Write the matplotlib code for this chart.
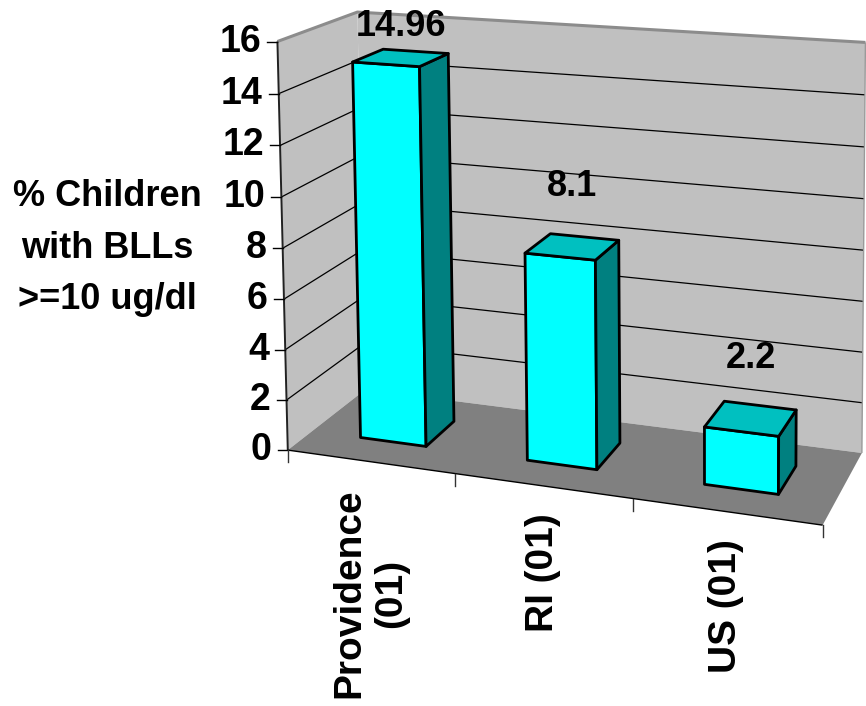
import numpy as np
import matplotlib.pyplot as plt
from matplotlib.patches import Polygon

plt.rcParams['font.family'] = ['Liberation Sans', 'DejaVu Sans']

# data
categories = ["Providence\n(01)", "RI (01)", "US (01)"]
values = [14.96, 8.1, 2.2]
value_labels = ["14.96", "8.1", "2.2"]
z_ticks = [0, 2, 4, 6, 8, 10, 12, 14, 16]
y_title = "% Children\nwith BLLs\n>=10 ug/dl"

N = len(categories)
ZMAX = z_ticks[-1]

# where the corners of the 3d box land on the 866x706 canvas (layout only)
frame_world = [(0, 0, 0), (0, 0, ZMAX), (0, 1, ZMAX), (0, 1, 0),
               (N, 0, 0), (N, 1, 0), (1, 0, 0), (2, 0, 0), (N, 1, ZMAX)]
frame_px = [(291, 448), (275, 41), (360, 12), (362, 392),
            (822, 527), (863, 450), (455, 473), (633, 500), (865, 43)]


def solve_projection(world, image):
    rows = []
    for (X, Y, Z), (u, v) in zip(world, image):
        rows.append([X, Y, Z, 1, 0, 0, 0, 0, -u * X, -u * Y, -u * Z, -u])
        rows.append([0, 0, 0, 0, X, Y, Z, 1, -v * X, -v * Y, -v * Z, -v])
    _, _, vt = np.linalg.svd(np.array(rows, dtype=float))
    return vt[-1].reshape(3, 4)


P = solve_projection(frame_world, frame_px)


def proj(x, d, z):
    p = P @ np.array([x, d, z, 1.0])
    return p[0] / p[2], p[1] / p[2]


fig = plt.figure(figsize=(8.66, 7.06), dpi=100)
ax = fig.add_axes([0, 0, 1, 1])
ax.set_xlim(0, 866)
ax.set_ylim(706, 0)
ax.axis('off')


def face(pts, fc, ec='none', lw=0, z=1):
    ax.add_patch(Polygon([proj(*p) for p in pts], closed=True, facecolor=fc,
                         edgecolor=ec, linewidth=lw, joinstyle='round', zorder=z))


def line(pts, color='black', lw=0.8, z=2):
    xy = np.array([proj(*p) for p in pts])
    ax.plot(xy[:, 0], xy[:, 1], color=color, lw=lw, zorder=z, solid_capstyle='butt')


# walls and floor
face([(0, 1, 0), (N, 1, 0), (N, 1, ZMAX), (0, 1, ZMAX)], '#c0c0c0')
face([(0, 0, 0), (0, 1, 0), (0, 1, ZMAX), (0, 0, ZMAX)], '#c0c0c0')
face([(0, 0, 0), (N, 0, 0), (N, 1, 0), (0, 1, 0)], '#808080')

for zt in z_ticks[1:-1]:
    line([(0, 0, zt), (0, 1, zt), (N, 1, zt)], lw=0.9)
line([(0, 0, ZMAX), (0, 1, ZMAX), (N, 1, ZMAX)], color='#8c8c8c', lw=2.2)
line([(N, 1, 0), (N, 1, ZMAX)], color='#9a9a9a', lw=1.0)
line([(0, 0, 0), (N, 0, 0)], color='black', lw=1.0)
line([(0, 0, 0), (0, 0, ZMAX)], color='#222222', lw=1.4, z=3)

# value axis ticks and labels
for zt in z_ticks:
    x0, y0 = proj(0, 0, zt)
    ax.plot([x0 - 10, x0], [y0, y0], color='black', lw=1.0, zorder=3)
    ax.text(x0 - 16, y0, str(zt), ha='right', va='center', fontsize=27,
            fontweight='bold', color='black')

# category ticks and labels
for i in range(N + 1):
    x0, y0 = proj(i, 0, 0)
    ax.plot([x0, x0], [y0, y0 + 12], color='#333333', lw=1.0, zorder=3)
for i, cat in enumerate(categories):
    x0, y0 = proj(i + 0.5, 0, 0)
    ax.text(x0, y0 + 27, cat, rotation=90, ha='center', va='top',
            multialignment='center', fontsize=28, fontweight='bold',
            linespacing=1.2, color='black')

# bars
w0, w1 = 0.3, 0.7
for i, v in enumerate(values):
    xa, xb = i + w0, i + w1
    ec = dict(ec='black', lw=2.0, z=4)
    face([(xa, w0, 0), (xb, w0, 0), (xb, w0, v), (xa, w0, v)], '#00ffff', **ec)
    face([(xb, w0, 0), (xb, w1, 0), (xb, w1, v), (xb, w0, v)], '#008080', **ec)
    face([(xa, w0, v), (xb, w0, v), (xb, w1, v), (xa, w1, v)], '#00c0c0', **ec)
    lx, ly = proj(i + 0.5, 0.5, v)
    ax.text(lx, max(ly - 60, 26), value_labels[i], ha='center', va='center',
            fontsize=26, fontweight='bold', color='black', zorder=5)

ax.text(107, 248, y_title, ha='center', va='center', multialignment='center',
        fontsize=26, fontweight='bold', linespacing=1.6, color='black')

fig.savefig('out.png', dpi=100)
